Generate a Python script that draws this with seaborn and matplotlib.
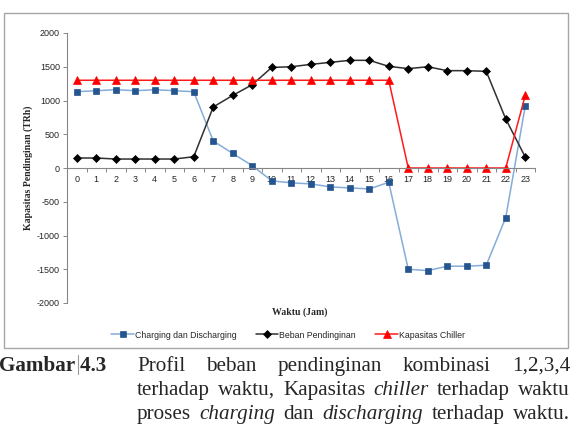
import matplotlib
matplotlib.use("Agg")
import matplotlib.pyplot as plt
from matplotlib.patches import Rectangle
from matplotlib.lines import Line2D
import seaborn as sns

# data
jam = list(range(24))
charging = [1130, 1145, 1160, 1145, 1160, 1145, 1130, 400, 215, 35, -190, -220, -235, -280, -295, -310,
            -212, -1500, -1520, -1455, -1455, -1440, -735, 918]
beban = [148, 148, 133, 133, 133, 133, 167, 904, 1076, 1234, 1490, 1500, 1535, 1565, 1595, 1595,
         1506, 1472, 1500, 1442, 1442, 1432, 726, 163]
chiller = [1300] * 17 + [0] * 6 + [1075]
y_ticks = [-2000, -1500, -1000, -500, 0, 500, 1000, 1500, 2000]

sns.set_style("white")

W, H = 572, 424
fig = plt.figure(figsize=(W / 100, H / 100), dpi=100)

# chart frame (Excel chart area)
fig.patches.append(Rectangle((4 / W, 1 - 348 / H), 564 / W, 335 / H, transform=fig.transFigure,
                             fill=False, edgecolor="#a6a6a6", linewidth=1.0))

ax = fig.add_axes([67 / W, 1 - 303 / H, 468 / W, 270 / H])

sns.lineplot(x=jam, y=charging, ax=ax, color="#85acd8", linewidth=1.1, marker="s", markersize=4.8,
             markerfacecolor="#24558f", markeredgecolor="#24558f", markeredgewidth=0.5,
             label="Charging dan Discharging")
sns.lineplot(x=jam, y=beban, ax=ax, color="#303030", linewidth=1.1, marker="D", markersize=3.8,
             markerfacecolor="black", markeredgecolor="black", markeredgewidth=0.5,
             label="Beban Pendinginan")
sns.lineplot(x=jam, y=chiller, ax=ax, color="#ff1a1a", linewidth=1.1, marker="^", markersize=5.5,
             markerfacecolor="#ff0000", markeredgecolor="#ff0000", markeredgewidth=0.5,
             label="Kapasitas Chiller")

ax.set_xlim(-0.5, 23.5)
ax.set_ylim(-2000, 2000)
ax.set_xlabel("")
ax.set_ylabel("")

for s in ["top", "right"]:
    ax.spines[s].set_visible(False)
ax.spines["left"].set_color("#868686")
ax.spines["left"].set_linewidth(0.8)
ax.spines["bottom"].set_position(("data", 0))
ax.spines["bottom"].set_color("#868686")
ax.spines["bottom"].set_linewidth(0.8)

tick_font = {"family": "Liberation Sans", "size": 6.5}
ax.set_yticks(y_ticks)
ax.set_yticklabels([str(v) for v in y_ticks], fontdict=tick_font)
ax.tick_params(axis="y", direction="out", length=3, width=0.7, color="#868686", pad=2, left=True)
ax.set_xticks(jam)
ax.set_xticklabels([str(j) for j in jam], fontdict=tick_font)
ax.set_xticks([j - 0.5 for j in jam] + [23.5], minor=True)
ax.tick_params(axis="x", which="major", length=0, pad=5)
ax.tick_params(axis="x", which="minor", direction="out", length=3, width=0.7, color="#868686", bottom=True)

ax.legend_.remove()
handles, labels = ax.get_legend_handles_labels()
fig.legend(handles, labels, loc="center", bbox_to_anchor=(288 / W, 1 - 335 / H), ncol=3, frameon=False,
           prop={"family": "Liberation Sans", "size": 6.3}, handlelength=2.6, handletextpad=0.1,
           columnspacing=2.2)

fig.text(28 / W, 1 - 168 / H, "Kapasitas Pendinginan (TRh)", rotation=90, ha="center", va="center",
         family="Liberation Serif", weight="bold", size=7)
fig.text(300 / W, 1 - 312 / H, "Waktu (Jam)", ha="center", va="center",
         family="Liberation Serif", weight="bold", size=7)

# caption below the chart, justified lines
cap = {"family": "Liberation Serif", "size": 15.2, "va": "baseline"}
renderer = fig.canvas.get_renderer()


def justify(words, y, x0, x1):
    texts = [fig.text(0, 1 - y / H, w, style=st, **cap) for w, st in words]
    widths = [t.get_window_extent(renderer).width for t in texts]
    gap = (x1 - x0 - sum(widths)) / (len(words) - 1)
    x = x0
    for t, w in zip(texts, widths):
        t.set_x(x / W)
        x += w + gap


fig.text(-1 / W, 1 - 371 / H, "Gambar 4.3", weight="bold", **cap)
fig.add_artist(Line2D([78 / W, 78 / W], [1 - 374 / H, 1 - 355 / H], transform=fig.transFigure,
                      color="#9a9a9a", linewidth=0.8))
justify([("Profil", "normal"), ("beban", "normal"), ("pendinginan", "normal"), ("kombinasi", "normal"),
         ("1,2,3,4", "normal")], 371, 137, 570)
justify([("terhadap", "normal"), ("waktu,", "normal"), ("Kapasitas", "normal"), ("chiller", "italic"),
         ("terhadap", "normal"), ("waktu", "normal")], 395, 137, 570)
justify([("proses", "normal"), ("charging", "italic"), ("dan", "normal"), ("discharging", "italic"),
         ("terhadap", "normal"), ("waktu.", "normal")], 419, 137, 570)

fig.savefig("out.png", dpi=100)
